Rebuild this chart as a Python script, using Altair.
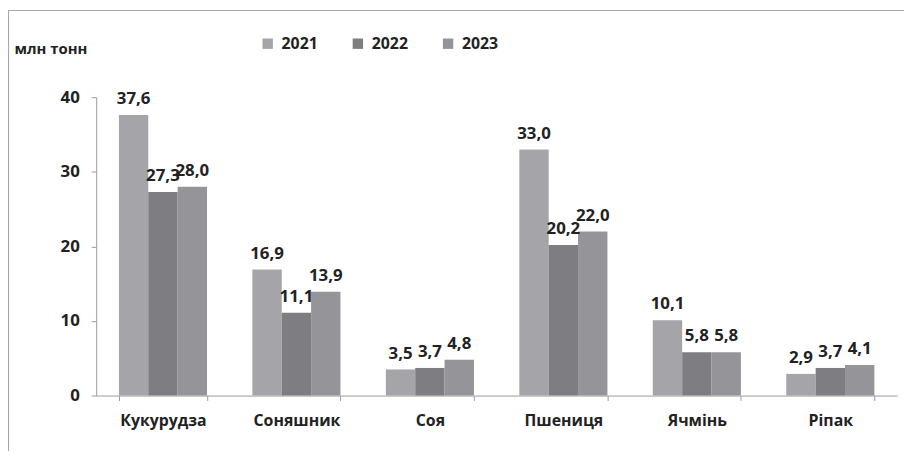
import altair as alt
import pandas as pd

crops = ["Кукурудза", "Соняшник", "Соя", "Пшениця", "Ячмінь", "Ріпак"]
years = ["2021", "2022", "2023"]
v2021 = [37.6, 16.9, 3.5, 33.0, 10.1, 2.9]
v2022 = [27.3, 11.1, 3.7, 20.2, 5.8, 3.7]
v2023 = [28.0, 13.9, 4.8, 22.0, 5.8, 4.1]
colors = ["#a5a5a9", "#7e7e82", "#959599"]

rows = []
for series, yr in zip([v2021, v2022, v2023], years):
    for c, v in zip(crops, series):
        rows.append({"crop": c, "year": yr, "value": v})
df = pd.DataFrame(rows)

FONT = "Open Sans"
TXT = "#222222"

x = alt.X("crop:N", sort=crops, title=None,
          scale=alt.Scale(paddingInner=0.34, paddingOuter=0.17),
          axis=alt.Axis(tickBand="extent", labelAngle=0, labelPadding=12,
                        labelFontSize=16, labelFont=FONT, labelFontWeight="bold",
                        labelColor=TXT, domainColor="#9a9a9a", tickColor="#9a9a9a",
                        tickSize=5))
xoff = alt.XOffset("year:N", sort=years, scale=alt.Scale(paddingInner=0, paddingOuter=0))
y = alt.Y("value:Q", scale=alt.Scale(domain=[0, 40]),
          axis=alt.Axis(values=[0, 10, 20, 30, 40], grid=False, title="млн тонн",
                        titleAngle=0, titleX=-83, titleY=-49, titleAlign="left",
                        titleBaseline="middle", titleFont=FONT, titleFontSize=15,
                        titleFontWeight="bold", titleColor=TXT,
                        labelFont=FONT, labelFontSize=17, labelFontWeight="bold",
                        labelColor=TXT, labelPadding=12, tickSize=5,
                        domainColor="#9a9a9a", tickColor="#9a9a9a"))

base = alt.Chart(df)
bars = base.mark_bar().encode(
    x=x, xOffset=xoff, y=y,
    color=alt.Color("year:N", sort=years,
                    scale=alt.Scale(domain=years, range=colors),
                    legend=alt.Legend(title=None, orient="none", direction="horizontal",
                                      legendX=165, legendY=-62, symbolType="square",
                                      symbolSize=110, symbolStrokeWidth=0,
                                      labelFont=FONT, labelFontSize=16,
                                      labelFontWeight="bold", labelColor=TXT,
                                      labelOffset=6, columnPadding=32))
)
labels = base.transform_calculate(
    label="replace(format(datum.value, '.1f'), '.', ',')"
).mark_text(font=FONT, fontSize=17, fontWeight="bold", color=TXT,
            baseline="alphabetic", dy=-11).encode(
    x=x, xOffset=xoff, y=y, text="label:N")

border_df = pd.DataFrame({"a": [0]})
left_border = alt.Chart(border_df).mark_rule(color="#a8a8a8", strokeWidth=1.2).encode(
    x=alt.value(-88.5), y=alt.value(-87), y2=alt.value(357))
top_border = alt.Chart(border_df).mark_rule(color="#a8a8a8", strokeWidth=1.2).encode(
    x=alt.value(-89), x2=alt.value(815), y=alt.value(-87.5))

chart = alt.layer(bars, labels, left_border, top_border).properties(
    width=808, height=301,
    autosize=alt.AutoSizeParams(type="none"),
    padding={"left": 89, "top": 88, "right": 7, "bottom": 60},
    background="white",
).configure_view(stroke=None)

chart.save("out.html", embed_options={"renderer": "svg", "actions": False})
